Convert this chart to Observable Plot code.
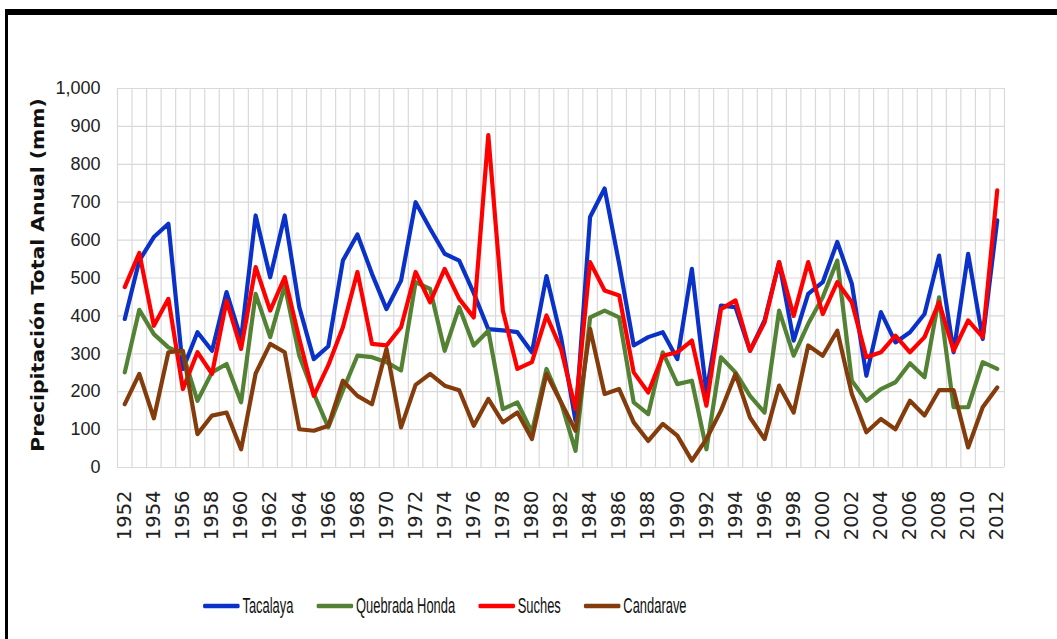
<!DOCTYPE html>
<html>
<head>
<meta charset="utf-8">
<script src="https://cdn.jsdelivr.net/npm/d3@7"></script>
<script src="https://cdn.jsdelivr.net/npm/@observablehq/plot@0.6"></script>
<style>
  html, body { margin: 0; padding: 0; background: #fff; }
  body { width: 1057px; height: 639px; position: relative; overflow: hidden; }
  #frame { position: absolute; left: 5px; top: 9px; width: 1060px; height: 640px;
           border-top: 6px solid #000; border-left: 3px solid #000; box-sizing: border-box; }
  #chart { position: absolute; left: 0; top: 0; }
  #chart svg [aria-label="y-axis tick label"] { font-family: "Liberation Sans", Arial, sans-serif; font-size: 18px; fill: #222; }
  #chart svg [aria-label="x-axis tick label"] { font-family: "DejaVu Sans", Verdana, sans-serif; font-size: 19.5px; fill: #222; }
  #ytitle { position: absolute; left: 37px; top: 275px; transform: translate(-50%, -50%) rotate(-90deg) scale(1.13, 1);
            white-space: nowrap; font-family: "DejaVu Sans", Verdana, sans-serif; font-weight: bold; font-size: 18px; color: #111; }
  #legend { position: absolute; left: 203px; top: 595px; display: flex; align-items: center;
            transform-origin: 0 50%; transform: scale(0.68, 1.12);
            font-family: "Liberation Sans", Arial, sans-serif; font-size: 19px; color: #111; }
  .item { display: flex; align-items: center; margin-right: 34px; }
  .sw { width: 54px; height: 4px; border-radius: 2px; margin-right: 4px; }
</style>
</head>
<body>
<div id="frame"></div>
<div id="chart"></div>
<div id="ytitle">Precipitación Total Anual (mm)</div>
<div id="legend"></div>
<script>
const years = d3.range(1952, 2013);
const seriesNames = ["Tacalaya", "Quebrada Honda", "Suches", "Candarave"];
const seriesColors = ["#0a32c8", "#548235", "#ff0000", "#843c0c"];

const tacalaya = [392, 546, 608, 643, 260, 357, 308, 463, 339, 665, 502, 665, 423, 286, 320,
  546, 615, 511, 418, 493, 700, 630, 564, 546, 460, 365, 362, 357, 304, 505,
  344, 123, 661, 736, 537, 322, 344, 357, 286, 524, 198, 427, 423, 308, 388,
  542, 335, 458, 489, 595, 485, 242, 410, 330, 357, 405, 559, 304, 564, 339, 652];
const quebradaHonda = [251, 416, 352, 317, 300, 176, 251, 273, 172, 458, 344, 480, 295, 195, 106,
  203, 295, 291, 278, 256, 489, 471, 308, 423, 322, 361, 154, 172, 93, 260,
  172, 44, 396, 414, 396, 172, 141, 304, 220, 229, 48, 291, 251, 189, 145,
  414, 295, 379, 449, 546, 229, 176, 207, 225, 275, 238, 449, 159, 159, 278, 260];
const suches = [476, 566, 374, 445, 207, 304, 247, 440, 313, 529, 414, 502, 340, 189, 270,
  370, 516, 326, 322, 370, 516, 436, 524, 445, 396, 877, 414, 260, 278, 401,
  313, 154, 542, 467, 454, 251, 198, 295, 304, 335, 163, 418, 441, 308, 383,
  542, 400, 542, 405, 489, 436, 291, 304, 348, 304, 344, 436, 308, 388, 344, 731];
const candarave = [167, 247, 130, 304, 308, 88, 137, 145, 48, 248, 326, 304, 101, 97, 110,
  229, 189, 167, 313, 106, 218, 247, 216, 204, 110, 181, 119, 145, 75, 247,
  172, 97, 366, 194, 207, 119, 70, 115, 84, 18, 75, 150, 247, 132, 75,
  216, 145, 322, 295, 361, 194, 93, 128, 101, 176, 137, 204, 204, 53, 159, 211];
const yTicks = d3.range(0, 1001, 100);
const xTicks = d3.range(1952, 2013, 2);

const allValues = [tacalaya, quebradaHonda, suches, candarave];
const rows = allValues.map(vals => years.map((year, i) => ({year, value: vals[i]})));
const bounds = years.map(y => y - 0.5).concat([years[years.length - 1] + 0.5]);

const plot = Plot.plot({
  width: 1057,
  height: 560,
  marginLeft: 117,
  marginRight: 53,
  marginTop: 88,
  marginBottom: 93,
  x: {type: "linear", domain: [bounds[0], bounds[bounds.length - 1]]},
  y: {domain: [0, 1000]},
  marks: [
    Plot.ruleY(yTicks, {stroke: "#d9d9d9", strokeWidth: 1.2}),
    Plot.ruleX(bounds, {stroke: "#d9d9d9", strokeWidth: 1.2}),
    ...rows.map((data, k) => Plot.line(data, {x: "year", y: "value", stroke: seriesColors[k], strokeWidth: 4.2, strokeLinejoin: "round", strokeLinecap: "round"})),
    Plot.axisY({ticks: yTicks, tickFormat: d3.format(","), tickSize: 0, tickPadding: 17, label: null}),
    Plot.axisX({ticks: xTicks, tickFormat: d => String(d), tickSize: 0, tickPadding: 23, tickRotate: -90, label: null})
  ]
});
document.getElementById("chart").appendChild(plot);

const legend = document.getElementById("legend");
seriesNames.forEach((name, k) => {
  const item = document.createElement("div");
  item.className = "item";
  const sw = document.createElement("div");
  sw.className = "sw";
  sw.style.background = seriesColors[k];
  const label = document.createElement("span");
  label.textContent = name;
  item.appendChild(sw);
  item.appendChild(label);
  legend.appendChild(item);
});
</script>
</body>
</html>
